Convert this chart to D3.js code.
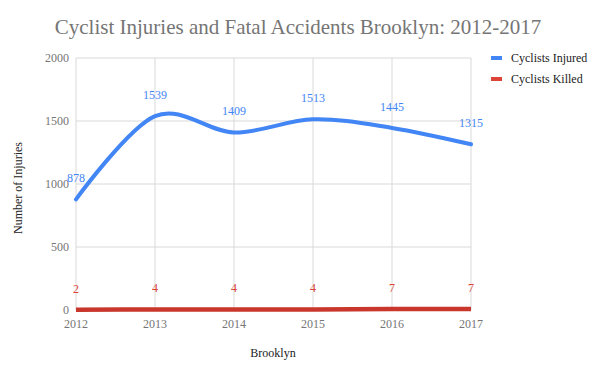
<!DOCTYPE html>
<html><head><meta charset="utf-8">
<script src="https://cdn.jsdelivr.net/npm/d3@7"></script>
<style>body{margin:0;background:#fff}svg{display:block}</style>
</head><body>
<script>
const years = [2012, 2013, 2014, 2015, 2016, 2017];
const injured = [878, 1539, 1409, 1513, 1445, 1315];
const killed = [2, 4, 4, 4, 7, 7];
const yTicks = [0, 500, 1000, 1500, 2000];
const seriesNames = ["Cyclists Injured", "Cyclists Killed"];
const colors = ["#4285F4", "#DB4437"];
const FONT = "'Liberation Serif', 'DejaVu Serif', 'Times New Roman', serif";

const W = 594, H = 368;
const svg = d3.select("body").append("svg").attr("width", W).attr("height", H)
  .attr("font-family", FONT);
const x = d3.scaleLinear().domain([2012, 2017]).range([76, 471]);
const y = d3.scaleLinear().domain([0, 2000]).range([310, 58]);

// grid
svg.append("g").selectAll("line").data(yTicks).join("line")
  .attr("x1", 76).attr("x2", 471).attr("y1", d => y(d)).attr("y2", d => y(d))
  .attr("stroke", "#d9d9d9").attr("stroke-width", 1);
svg.append("g").selectAll("line").data(years).join("line")
  .attr("y1", 58).attr("y2", 310).attr("x1", d => x(d)).attr("x2", d => x(d))
  .attr("stroke", "#d9d9d9").attr("stroke-width", 1);

// axes labels
svg.append("g").selectAll("text").data(yTicks).join("text")
  .attr("x", 69).attr("y", d => y(d) + 4).attr("text-anchor", "end")
  .attr("font-size", 12).attr("fill", "#757575").text(d => d);
svg.append("g").selectAll("text").data(years).join("text")
  .attr("x", d => x(d)).attr("y", 328).attr("text-anchor", "middle")
  .attr("font-size", 12).attr("fill", "#757575").text(d => d);

svg.append("text").attr("x", 273).attr("y", 357).attr("text-anchor", "middle")
  .attr("font-size", 12).attr("fill", "#222").text("Brooklyn");
svg.append("text").attr("transform", "translate(22,188) rotate(-90)").attr("text-anchor", "middle")
  .attr("font-size", 12).attr("fill", "#222").text("Number of Injuries");

svg.append("text").attr("x", 298).attr("y", 34).attr("text-anchor", "middle")
  .attr("font-size", 21).attr("fill", "#757575").text("Cyclist Injuries and Fatal Accidents Brooklyn: 2012-2017");

const line = d3.line().x((d, i) => x(years[i])).y(d => y(d)).curve(d3.curveCardinal.tension(0));
svg.append("path").attr("d", line(killed)).attr("fill", "none")
  .attr("stroke", "#C9372C").attr("stroke-width", 4.5);
svg.append("path").attr("d", line(injured)).attr("fill", "none")
  .attr("stroke", colors[0]).attr("stroke-width", 4).attr("stroke-linecap", "round");

// data labels
svg.append("g").selectAll("text").data(injured).join("text")
  .attr("x", (d, i) => x(years[i])).attr("y", d => y(d) - 17)
  .attr("text-anchor", "middle").attr("font-size", 12).attr("fill", colors[0]).text(d => d);
svg.append("g").selectAll("text").data(killed).join("text")
  .attr("x", (d, i) => x(years[i])).attr("y", d => y(d) - 17)
  .attr("text-anchor", "middle").attr("font-size", 12).attr("fill", colors[1]).text(d => d);

// legend
seriesNames.forEach((n, i) => {
  const ly = 58 + i * 21;
  svg.append("rect").attr("x", 491).attr("y", ly - 2).attr("width", 11).attr("height", 4).attr("fill", colors[i]);
  svg.append("text").attr("x", 511).attr("y", ly + 4).attr("font-size", 12).attr("fill", "#222").text(n);
});
</script>
</body></html>
